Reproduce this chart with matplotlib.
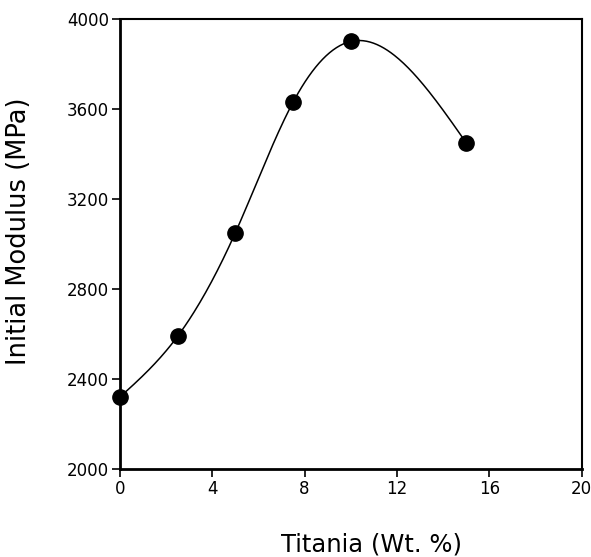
import numpy as np
import matplotlib
matplotlib.use('Agg')
import matplotlib.pyplot as plt

# data
titania = [0.0, 2.5, 5.0, 7.5, 10.0, 15.0]          # Wt. %
modulus = [2320, 2590, 3050, 3630, 3900, 3450]      # MPa

x_ticks = [0, 4, 8, 12, 16, 20]
y_ticks = [2000, 2400, 2800, 3200, 3600, 4000]


def natural_spline(xk, yk, xs):
    # plain natural cubic spline, just for the smooth guide line
    xk = np.asarray(xk, float)
    yk = np.asarray(yk, float)
    n = len(xk)
    h = np.diff(xk)
    A = np.zeros((n, n))
    r = np.zeros(n)
    A[0, 0] = A[-1, -1] = 1.0
    for i in range(1, n - 1):
        A[i, i - 1] = h[i - 1]
        A[i, i] = 2 * (h[i - 1] + h[i])
        A[i, i + 1] = h[i]
        r[i] = 3 * ((yk[i + 1] - yk[i]) / h[i] - (yk[i] - yk[i - 1]) / h[i - 1])
    c = np.linalg.solve(A, r)
    b = (yk[1:] - yk[:-1]) / h - h * (2 * c[:-1] + c[1:]) / 3
    d = (c[1:] - c[:-1]) / (3 * h)
    idx = np.clip(np.searchsorted(xk, xs) - 1, 0, n - 2)
    dx = xs - xk[idx]
    return yk[idx] + b[idx] * dx + c[idx] * dx**2 + d[idx] * dx**3


fig = plt.figure(figsize=(5.91, 5.57), dpi=100)
ax = fig.add_axes([0.203, 0.158, 0.781, 0.808])

xs = np.linspace(titania[0], titania[-1], 300)
ax.plot(xs, natural_spline(titania, modulus, xs), color='black', lw=1.1)
ax.plot(titania, modulus, 'o', color='black', ms=11, clip_on=False)

ax.set_xlim(0, 20)
ax.set_ylim(2000, 4000)
ax.set_xticks(x_ticks)
ax.set_yticks(y_ticks)
ax.tick_params(direction='out', length=6, width=1.2, labelsize=12, pad=2,
               colors='black')

for side in ['left', 'bottom']:
    ax.spines[side].set_linewidth(2.0)
for side in ['top', 'right']:
    ax.spines[side].set_linewidth(1.5)

ax.set_xlabel('Titania (Wt. %)', fontsize=17.5)
ax.xaxis.set_label_coords(0.546, -0.142)
ax.set_ylabel('Initial Modulus (MPa)', fontsize=18.5)
ax.yaxis.set_label_coords(-0.19, 0.529)

fig.savefig('out.png', dpi=100)
